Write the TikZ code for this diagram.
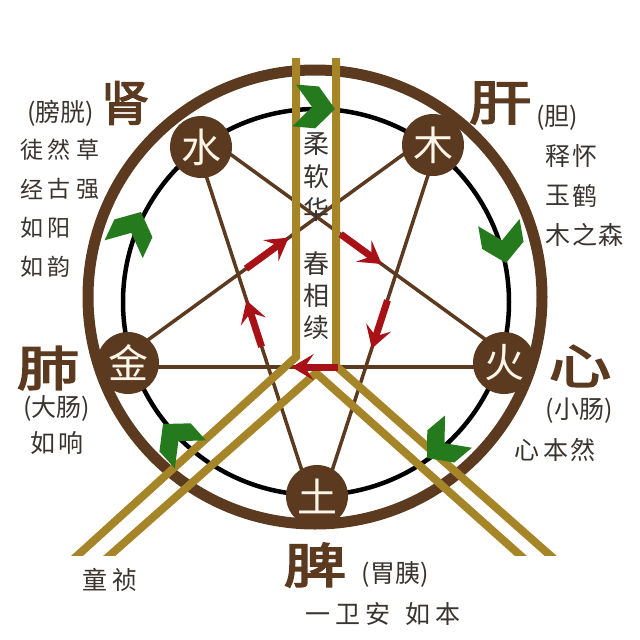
\documentclass[tikz,border=0pt]{standalone}
\usepackage{fontspec}
\newfontfamily\cjk{Noto Sans CJK SC}
\newfontfamily\cjkb[FakeBold=3]{Noto Sans CJK SC}
\usetikzlibrary{arrows.meta,calc}
\definecolor{brn}{RGB}{92,58,32}
\definecolor{gld}{RGB}{166,133,40}
\definecolor{grn}{RGB}{38,122,30}
\definecolor{rd}{RGB}{168,18,22}
\definecolor{txtc}{RGB}{58,52,48}
\definecolor{cream}{RGB}{252,246,232}
\begin{document}
\begin{tikzpicture}[x=1pt,y=-1pt,
  elem/.style={circle, fill=brn, minimum size=62pt, inner sep=0pt, text=cream, font=\cjk\fontsize{40}{40}\selectfont},
  organ/.style={text=brn, inner sep=0pt, font=\cjkb\fontsize{48}{48}\selectfont},
  smalltxt/.style={text=txtc, inner sep=0pt, font=\cjk\fontsize{25}{25}\selectfont},
  coltxt/.style={text=txtc, inner sep=0pt, font=\cjk\fontsize{23}{23}\selectfont},
  startxt/.style={text=txtc, inner sep=0pt, font=\cjk\fontsize{26}{26}\selectfont},
  starline/.style={draw=brn, line width=3.5pt},
  barline/.style={draw=gld, line width=8pt, line join=miter},
  redarrow/.style={draw=rd, line width=7pt, -{Stealth[length=22pt,width=26pt,inset=9pt]}},
  chev/.pic={\fill[grn] (0,0) -- (-18,21) -- (-41,21) -- (-23,0) -- (-41,-21) -- (-18,-21) -- cycle;}
]
\useasboundingbox (0,0) rectangle (640,640);
\fill[white] (0,0) rectangle (640,640);

% rings
\draw[brn, line width=11pt] (315,297) circle[radius=227];
\draw[black, line width=4.5pt] (316,302) circle[radius=193];

% pentagram vertices
\coordinate (s1) at (189.5,124.5);
\coordinate (s2) at (444.5,124.5);
\coordinate (s3) at (523.4,367.1);
\coordinate (s4) at (317,517);
\coordinate (s5) at (110.6,367.1);
\draw[starline] (s1) -- (s3);
\draw[starline] (s1) -- (s4);
\draw[starline] (s2) -- (s5);
\draw[starline] (s2) -- (s4);
\draw[starline] (s5) -- (s3);

% element nodes
\node[elem] (shui) at (201,147) {水};
\node[elem] (mu) at (433,145) {木};
\node[elem] (huo) at (504,363) {火};
\node[elem] (tu) at (317,496) {土};
\node[elem] (jin) at (128,363) {金};

% gold bars
\begin{scope}
\clip (0,0) rectangle (640,555);
\draw[barline] (296,58) -- (296,357) -- (67,565);
\draw[barline] (336,58) -- (336,366) -- (561,565);
\draw[barline] (99,565) -- (316,373) -- (531,565);
\end{scope}

% green chevrons
\pic[rotate=-5] at (335,109) {chev};
\pic[rotate=-80] at (506,263) {chev};
\pic[rotate=-140] at (427,458) {chev};
\pic[rotate=132] at (163,424) {chev};
\pic[rotate=65] at (141,212) {chev};

% inner pentagon
\coordinate (pT) at (317,217);
\coordinate (pR) at (395.9,274.4);
\coordinate (pBR) at (365.8,367.1);
\coordinate (pBL) at (268.2,367.1);
\coordinate (pL) at (238.1,274.4);
\draw[redarrow] ($(pL)!0.1!(pT)$) -- ($(pL)!0.64!(pT)$);
\draw[redarrow] ($(pT)!0.3!(pR)$) -- ($(pT)!0.82!(pR)$);
\draw[redarrow] ($(pR)!0.28!(pBR)$) -- ($(pR)!0.8!(pBR)$);
\draw[redarrow] ($(pBR)!0.29!(pBL)$) -- ($(pBR)!0.76!(pBL)$);
\draw[redarrow] ($(pBL)!0.22!(pL)$) -- ($(pBL)!0.72!(pL)$);

% organ labels
\node[organ] (shen) at (125,103) {肾};
\node[organ] (gan) at (500,103) {\scalebox{1.3}[1]{肝}};
\node[organ] (fei) at (48,368) {\scalebox{1.3}[1]{肺}};
\node[organ] (xin) at (580,366) {\scalebox{1.3}[1]{心}};
\node[organ] (pi) at (315,565) {\scalebox{1.3}[1]{脾}};

% small labels
\node[smalltxt] (pangguang) at (61,113) {(膀胱)};
\node[smalltxt] (dan) at (557,118) {(胆)};
\node[smalltxt] (dachang) at (57,408) {(大肠)};
\node[smalltxt] (ruxiang) at (57,443) {如\hspace{3pt}响};
\node[smalltxt] (xiaochang) at (579,411) {(小肠)};
\node[smalltxt] (xinbenran) at (555,450) {心\hspace{4pt}本\hspace{2pt}然};
\node[smalltxt] (weiyi) at (395,574) {(胃胰)};
\node[smalltxt] (yiwei) at (383,614) {一\hspace{5pt}卫\hspace{5pt}安\hspace{15pt}如\hspace{5pt}本};
\node[smalltxt] (tongzhen) at (110,580) {童\hspace{5pt}祯};

% vertical columns, left
\foreach \ch [count=\i] in {徒,经,如,如} \node[coltxt] (la\i) at (32,{150+(\i-1)*39}) {\ch};
\foreach \ch [count=\i] in {然,古,阳,韵} \node[coltxt] (lb\i) at (59,{150+(\i-1)*39}) {\ch};
\foreach \ch [count=\i] in {草,强} \node[coltxt] (lc\i) at (88,{150+(\i-1)*39}) {\ch};
% vertical columns, right
\foreach \ch [count=\i] in {释,玉,木} \node[smalltxt] (ra\i) at (558,{156+(\i-1)*39.5}) {\ch};
\foreach \ch [count=\i] in {怀,鹤,之} \node[smalltxt] (rb\i) at (585,{156+(\i-1)*39.5}) {\ch};
\node[smalltxt] (rc1) at (611,235) {森};
% vertical text between bars
\foreach \ch [count=\i] in {柔,软,华} \node[startxt] (ma\i) at (316,{144+(\i-1)*33}) {\ch};
\foreach \ch [count=\i] in {春,相,续} \node[startxt] (mb\i) at (316,{264+(\i-1)*32}) {\ch};
\end{tikzpicture}
\end{document}
